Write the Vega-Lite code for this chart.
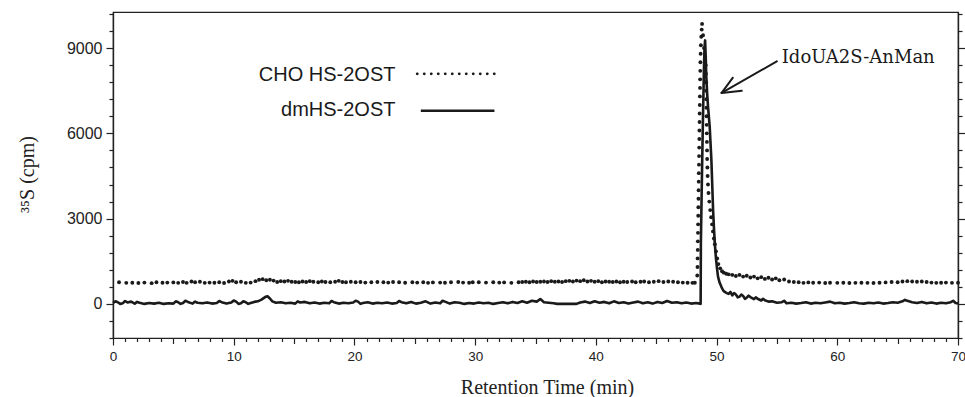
{
  "$schema": "https://vega.github.io/schema/vega-lite/v6.json",
  "width": 845,
  "height": 326,
  "autosize": {"type": "none"},
  "padding": {"left": 113, "top": 12, "right": 7, "bottom": 59},
  "background": "white",
  "config": {
    "view": {"stroke": "#222", "strokeWidth": 1.2},
    "axis": {"domainColor": "#222", "domainWidth": 1.2, "tickColor": "#222", "tickWidth": 1.2, "labelColor": "#222", "labelFont": "Liberation Sans", "grid": false, "titleColor": "#222", "titleFontWeight": "normal", "labelOverlap": false}
  },
  "datasets": {
    "cho": [
      {"t":0.5,"v":760},{"t":1.1,"v":740},{"t":1.6,"v":745},{"t":2.1,"v":735},{"t":2.6,"v":750},{"t":3.2,"v":730},{"t":3.6,"v":760},{"t":4.1,"v":745},{"t":4.5,"v":750},{"t":5.0,"v":755},{"t":5.4,"v":740},{"t":5.8,"v":770},{"t":6.1,"v":740},{"t":6.5,"v":790},{"t":6.8,"v":760},{"t":7.2,"v":780},{"t":7.6,"v":740},{"t":8.0,"v":750},{"t":8.4,"v":745},{"t":8.8,"v":760},{"t":9.2,"v":735},{"t":9.6,"v":790},{"t":9.9,"v":810},{"t":10.2,"v":760},{"t":10.6,"v":780},{"t":11.0,"v":740},{"t":11.4,"v":750},{"t":11.8,"v":800},{"t":12.1,"v":850},{"t":12.4,"v":870},{"t":12.7,"v":830},{"t":13.0,"v":850},{"t":13.3,"v":820},{"t":13.6,"v":770},{"t":13.9,"v":800},{"t":14.2,"v":790},{"t":14.5,"v":810},{"t":14.8,"v":780},{"t":15.1,"v":770},{"t":15.4,"v":760},{"t":15.7,"v":790},{"t":16.0,"v":770},{"t":16.3,"v":800},{"t":16.6,"v":780},{"t":17.0,"v":760},{"t":17.3,"v":790},{"t":17.6,"v":770},{"t":18.0,"v":760},{"t":18.4,"v":780},{"t":18.7,"v":810},{"t":19.0,"v":770},{"t":19.3,"v":760},{"t":19.7,"v":780},{"t":20.1,"v":760},{"t":20.5,"v":770},{"t":20.9,"v":750},{"t":21.4,"v":760},{"t":21.9,"v":770},{"t":22.4,"v":760},{"t":22.8,"v":750},{"t":23.2,"v":770},{"t":23.7,"v":760},{"t":24.2,"v":745},{"t":24.8,"v":760},{"t":25.2,"v":750},{"t":25.7,"v":760},{"t":26.1,"v":740},{"t":26.5,"v":755},{"t":27.1,"v":750},{"t":27.5,"v":745},{"t":28.0,"v":760},{"t":28.6,"v":770},{"t":29.0,"v":750},{"t":29.5,"v":745},{"t":29.8,"v":760},{"t":30.3,"v":760},{"t":30.9,"v":750},{"t":31.5,"v":760},{"t":32.0,"v":750},{"t":32.4,"v":755},{"t":33.0,"v":740},{"t":33.6,"v":760},{"t":33.9,"v":770},{"t":34.2,"v":780},{"t":34.5,"v":760},{"t":34.8,"v":790},{"t":35.1,"v":770},{"t":35.4,"v":780},{"t":35.7,"v":790},{"t":36.0,"v":770},{"t":36.3,"v":800},{"t":36.6,"v":780},{"t":36.9,"v":790},{"t":37.2,"v":770},{"t":37.5,"v":800},{"t":37.8,"v":810},{"t":38.1,"v":790},{"t":38.4,"v":820},{"t":38.7,"v":800},{"t":39.0,"v":830},{"t":39.3,"v":790},{"t":39.6,"v":810},{"t":39.9,"v":780},{"t":40.2,"v":800},{"t":40.5,"v":760},{"t":40.8,"v":790},{"t":41.1,"v":780},{"t":41.4,"v":770},{"t":41.7,"v":790},{"t":42.0,"v":760},{"t":42.3,"v":780},{"t":42.6,"v":770},{"t":43.0,"v":790},{"t":43.3,"v":760},{"t":43.7,"v":780},{"t":44.0,"v":790},{"t":44.4,"v":760},{"t":44.8,"v":780},{"t":45.2,"v":800},{"t":45.6,"v":770},{"t":46.0,"v":790},{"t":46.4,"v":780},{"t":46.8,"v":760},{"t":47.2,"v":750},{"t":47.6,"v":745},{"t":48.0,"v":740},{"t":48.2,"v":745},
      {"t":48.40,"v":1000},{"t":48.42,"v":1300},{"t":48.43,"v":1600},{"t":48.44,"v":1900},{"t":48.45,"v":2200},{"t":48.46,"v":2500},{"t":48.47,"v":2800},{"t":48.48,"v":3100},{"t":48.49,"v":3400},{"t":48.50,"v":3700},{"t":48.51,"v":4000},{"t":48.52,"v":4300},{"t":48.53,"v":4600},{"t":48.54,"v":4900},{"t":48.55,"v":5200},{"t":48.56,"v":5500},{"t":48.57,"v":5800},{"t":48.58,"v":6100},{"t":48.59,"v":6400},{"t":48.60,"v":6700},{"t":48.61,"v":7000},{"t":48.62,"v":7300},{"t":48.63,"v":7600},{"t":48.64,"v":7900},{"t":48.65,"v":8200},{"t":48.66,"v":8500},{"t":48.68,"v":8800},{"t":48.70,"v":9100},{"t":48.73,"v":9400},{"t":48.77,"v":9650},{"t":48.80,"v":9850},
      {"t":48.88,"v":9450},{"t":48.96,"v":9000},{"t":49.05,"v":8700},{"t":49.10,"v":8400},{"t":49.12,"v":8100},{"t":49.13,"v":7800},{"t":49.14,"v":7500},{"t":49.15,"v":7200},{"t":49.16,"v":6900},{"t":49.17,"v":6600},{"t":49.18,"v":6300},{"t":49.19,"v":6000},{"t":49.20,"v":5700},{"t":49.21,"v":5400},{"t":49.22,"v":5100},{"t":49.24,"v":4800},{"t":49.26,"v":4500},{"t":49.29,"v":4200},{"t":49.33,"v":3900},{"t":49.40,"v":3600},{"t":49.47,"v":3300},{"t":49.55,"v":3050},{"t":49.63,"v":2800},{"t":49.70,"v":2550},{"t":49.78,"v":2300},{"t":49.86,"v":2100},{"t":49.95,"v":1850},{"t":50.05,"v":1600},{"t":50.15,"v":1400},{"t":50.30,"v":1250},{"t":50.45,"v":1150},{"t":50.60,"v":1100},{"t":50.80,"v":1060},{"t":51.00,"v":1040},
      {"t":51.3,"v":1020},{"t":51.6,"v":980},{"t":51.9,"v":1020},{"t":52.2,"v":960},{"t":52.5,"v":990},{"t":52.8,"v":930},{"t":53.1,"v":960},{"t":53.4,"v":900},{"t":53.7,"v":940},{"t":54.0,"v":880},{"t":54.3,"v":920},{"t":54.6,"v":860},{"t":54.9,"v":900},{"t":55.2,"v":830},{"t":55.6,"v":860},{"t":56.0,"v":790},{"t":56.4,"v":770},{"t":56.8,"v":760},{"t":57.2,"v":740},{"t":57.6,"v":755},{"t":58.0,"v":745},{"t":58.5,"v":750},{"t":59.0,"v":735},{"t":59.4,"v":745},{"t":60.0,"v":740},{"t":60.5,"v":745},{"t":61.0,"v":735},{"t":61.5,"v":740},{"t":62.0,"v":745},{"t":62.5,"v":740},{"t":63.0,"v":735},{"t":63.5,"v":745},{"t":64.0,"v":755},{"t":64.5,"v":770},{"t":65.0,"v":760},{"t":65.4,"v":790},{"t":65.8,"v":800},{"t":66.2,"v":790},{"t":66.6,"v":780},{"t":67.0,"v":790},{"t":67.4,"v":770},{"t":67.8,"v":750},{"t":68.2,"v":740},{"t":68.6,"v":745},{"t":69.0,"v":750},{"t":69.5,"v":740},{"t":70.0,"v":745}
    ],
    "dm": [
      {"t":0.0,"v":30},{"t":0.2,"v":90},{"t":0.4,"v":60},{"t":0.6,"v":0},{"t":0.8,"v":20},{"t":1.0,"v":100},{"t":1.2,"v":50},{"t":1.5,"v":80},{"t":1.8,"v":10},{"t":2.0,"v":70},{"t":2.2,"v":40},{"t":2.6,"v":0},{"t":3.0,"v":30},{"t":3.4,"v":10},{"t":3.8,"v":40},{"t":4.2,"v":0},{"t":4.6,"v":20},{"t":5.0,"v":10},{"t":5.2,"v":90},{"t":5.4,"v":60},{"t":5.6,"v":0},{"t":5.8,"v":30},{"t":6.0,"v":110},{"t":6.2,"v":70},{"t":6.6,"v":10},{"t":6.8,"v":80},{"t":7.0,"v":40},{"t":7.4,"v":20},{"t":7.8,"v":50},{"t":8.2,"v":10},{"t":8.6,"v":30},{"t":8.8,"v":100},{"t":9.0,"v":60},{"t":9.4,"v":10},{"t":9.8,"v":50},{"t":10.0,"v":120},{"t":10.2,"v":80},{"t":10.4,"v":0},{"t":10.6,"v":20},{"t":10.8,"v":90},{"t":11.0,"v":60},{"t":11.2,"v":0},{"t":11.4,"v":30},{"t":11.7,"v":70},{"t":12.0,"v":90},{"t":12.3,"v":150},{"t":12.6,"v":240},{"t":12.8,"v":270},{"t":13.0,"v":190},{"t":13.2,"v":90},{"t":13.5,"v":40},{"t":13.9,"v":60},{"t":14.3,"v":20},{"t":14.7,"v":40},{"t":15.1,"v":10},{"t":15.3,"v":90},{"t":15.5,"v":50},{"t":15.9,"v":70},{"t":16.3,"v":20},{"t":16.7,"v":50},{"t":17.1,"v":10},{"t":17.5,"v":40},{"t":17.9,"v":20},{"t":18.1,"v":100},{"t":18.3,"v":60},{"t":18.7,"v":10},{"t":19.1,"v":40},{"t":19.5,"v":20},{"t":19.9,"v":50},{"t":20.1,"v":110},{"t":20.3,"v":80},{"t":20.5,"v":0},{"t":20.7,"v":30},{"t":21.1,"v":60},{"t":21.5,"v":10},{"t":21.9,"v":40},{"t":22.3,"v":20},{"t":22.7,"v":50},{"t":23.1,"v":10},{"t":23.5,"v":30},{"t":23.7,"v":100},{"t":23.9,"v":60},{"t":24.3,"v":20},{"t":24.7,"v":70},{"t":25.1,"v":10},{"t":25.5,"v":40},{"t":25.9,"v":90},{"t":26.3,"v":10},{"t":26.7,"v":50},{"t":27.1,"v":20},{"t":27.3,"v":110},{"t":27.5,"v":80},{"t":27.9,"v":10},{"t":28.3,"v":60},{"t":28.7,"v":40},{"t":29.1,"v":0},{"t":29.5,"v":30},{"t":29.9,"v":10},{"t":30.3,"v":50},{"t":30.7,"v":20},{"t":31.1,"v":40},{"t":31.5,"v":0},{"t":31.9,"v":30},{"t":32.3,"v":60},{"t":32.7,"v":20},{"t":33.1,"v":70},{"t":33.5,"v":30},{"t":33.9,"v":90},{"t":34.3,"v":40},{"t":34.7,"v":110},{"t":35.1,"v":80},{"t":35.4,"v":170},{"t":35.7,"v":60},{"t":36.1,"v":40},{"t":36.5,"v":20},{"t":36.8,"v":0},{"t":37.4,"v":0},{"t":38.4,"v":0},{"t":38.7,"v":50},{"t":39.1,"v":80},{"t":39.5,"v":30},{"t":39.9,"v":90},{"t":40.3,"v":40},{"t":40.7,"v":70},{"t":41.1,"v":20},{"t":41.5,"v":90},{"t":41.9,"v":30},{"t":42.3,"v":60},{"t":42.7,"v":10},{"t":43.1,"v":50},{"t":43.5,"v":80},{"t":43.9,"v":20},{"t":44.3,"v":60},{"t":44.7,"v":10},{"t":45.1,"v":70},{"t":45.5,"v":30},{"t":45.9,"v":100},{"t":46.3,"v":40},{"t":46.7,"v":60},{"t":47.1,"v":20},{"t":47.5,"v":50},{"t":47.9,"v":10},{"t":48.3,"v":30},
      {"t":48.62,"v":10},{"t":48.68,"v":0},{"t":48.69,"v":1000},{"t":48.70,"v":2150},{"t":48.75,"v":3500},{"t":48.80,"v":4800},{"t":48.85,"v":6000},{"t":48.90,"v":7100},{"t":48.95,"v":8200},{"t":49.00,"v":9000},{"t":49.05,"v":9270},{"t":49.10,"v":8700},{"t":49.15,"v":8000},{"t":49.22,"v":7400},{"t":49.30,"v":6900},{"t":49.43,"v":6240},{"t":49.50,"v":5650},{"t":49.57,"v":5070},{"t":49.64,"v":4200},{"t":49.71,"v":3310},{"t":49.78,"v":2700},{"t":49.85,"v":2150},{"t":49.95,"v":1600},{"t":50.05,"v":1200},{"t":50.12,"v":960},{"t":50.25,"v":750},{"t":50.40,"v":600},{"t":50.55,"v":470},{"t":50.68,"v":420},{"t":50.85,"v":380},{"t":51.0,"v":350},{"t":51.15,"v":420},{"t":51.3,"v":300},{"t":51.45,"v":380},{"t":51.6,"v":330},{"t":51.75,"v":230},{"t":51.9,"v":250},{"t":52.05,"v":330},{"t":52.2,"v":280},{"t":52.35,"v":180},{"t":52.5,"v":220},{"t":52.65,"v":290},{"t":52.8,"v":240},{"t":53.1,"v":170},{"t":53.25,"v":230},{"t":53.4,"v":180},{"t":53.7,"v":120},{"t":53.85,"v":180},{"t":54.0,"v":130},{"t":54.3,"v":80},{"t":54.6,"v":90},{"t":55.0,"v":40},
      {"t":55.4,"v":60},{"t":55.6,"v":110},{"t":55.8,"v":20},{"t":56.2,"v":40},{"t":56.6,"v":10},{"t":57.0,"v":30},{"t":57.4,"v":60},{"t":57.8,"v":10},{"t":58.2,"v":40},{"t":58.6,"v":20},{"t":59.0,"v":50},{"t":59.4,"v":80},{"t":59.8,"v":20},{"t":60.2,"v":40},{"t":60.6,"v":10},{"t":61.0,"v":30},{"t":61.4,"v":60},{"t":61.8,"v":20},{"t":62.2,"v":10},{"t":62.6,"v":40},{"t":63.0,"v":20},{"t":63.4,"v":50},{"t":63.8,"v":10},{"t":64.2,"v":30},{"t":64.6,"v":60},{"t":65.0,"v":40},{"t":65.4,"v":90},{"t":65.6,"v":140},{"t":65.8,"v":110},{"t":66.2,"v":60},{"t":66.6,"v":30},{"t":67.0,"v":70},{"t":67.4,"v":20},{"t":67.8,"v":50},{"t":68.2,"v":10},{"t":68.6,"v":40},{"t":69.0,"v":20},{"t":69.4,"v":60},{"t":69.6,"v":110},{"t":69.8,"v":30},{"t":70.0,"v":10}
    ]
  },
  "resolve": {"axis": {"x": "independent", "y": "independent"}},
  "layer": [
    {
      "data": {"name": "cho"},
      "mark": {"type": "circle", "size": 15, "color": "#1a1a1a", "opacity": 1},
      "encoding": {
        "x": {"field": "t", "type": "quantitative", "scale": {"domain": [0, 70], "nice": false, "zero": false},
          "axis": {"orient": "bottom", "values": [0, 10, 20, 30, 40, 50, 60, 70], "format": "d", "labelFontSize": 13.5, "labelPadding": 4, "labelFlush": false, "tickSize": 7,
            "title": "Retention Time (min)", "titleFont": "Liberation Serif", "titleFontSize": 20, "titleX": 434, "titleY": 55, "titleBaseline": "alphabetic", "titleAlign": "center"}},
        "y": {"field": "v", "type": "quantitative", "scale": {"domain": [-1200, 10270], "nice": false, "zero": false},
          "axis": {"orient": "left", "values": [0, 3000, 6000, 9000], "format": "d", "labelFontSize": 16, "labelPadding": 4, "tickSize": 7,
            "title": "³⁵S (cpm)", "titleFont": "Liberation Serif", "titleFontSize": 20, "titleX": -80, "titleY": 162, "titleAngle": -90, "titleBaseline": "alphabetic", "titleAlign": "center"}}
      }
    },
    {
      "data": {"name": "dm"},
      "mark": {"type": "line", "color": "#1a1a1a", "strokeWidth": 2.6, "strokeJoin": "round"},
      "encoding": {
        "x": {"field": "t", "type": "quantitative",
          "axis": {"orient": "bottom", "values": [1,2,3,4,6,7,8,9,11,12,13,14,16,17,18,19,21,22,23,24,26,27,28,29,31,32,33,34,36,37,38,39,41,42,43,44,46,47,48,49,51,52,53,54,56,57,58,59,61,62,63,64,66,67,68,69], "labels": false, "title": null, "tickSize": 3.5}},
        "y": {"field": "v", "type": "quantitative",
          "axis": {"orient": "left", "values": [-1200,-600,600,1200,1800,2400,3600,4200,4800,5400,6600,7200,7800,8400,9600,10200], "labels": false, "title": null, "tickSize": 4}}
      }
    },
    {
      "data": {"values": [{}]},
      "mark": {"type": "text", "text": "CHO HS-2OST", "font": "Liberation Sans", "fontSize": 20, "align": "right", "baseline": "alphabetic", "color": "#1a1a1a"},
      "encoding": {
        "x": {"datum": 23.4, "type": "quantitative",
          "axis": {"orient": "bottom", "values": [5, 15, 25, 35, 45, 55, 65], "labels": false, "title": null, "tickSize": 5.5}},
        "y": {"datum": 7825, "type": "quantitative",
          "axis": {"orient": "right", "values": [0, 3000, 6000, 9000], "labels": false, "title": null, "tickSize": 7}}
      }
    },
    {
      "data": {"values": [{}]},
      "mark": {"type": "text", "text": "dmHS-2OST", "font": "Liberation Sans", "fontSize": 20, "align": "right", "baseline": "alphabetic", "color": "#1a1a1a"},
      "encoding": {
        "x": {"datum": 23.4, "type": "quantitative", "axis": null},
        "y": {"datum": 6628, "type": "quantitative",
          "axis": {"orient": "right", "values": [-1200,-600,600,1200,1800,2400,3600,4200,4800,5400,6600,7200,7800,8400,9600,10200], "labels": false, "title": null, "tickSize": 4}}
      }
    },
    {
      "data": {"values": [{}]},
      "mark": {"type": "rule", "color": "#1a1a1a", "strokeWidth": 2.8, "strokeCap": "round", "strokeDash": [0.1, 6.9]},
      "encoding": {"x": {"datum": 25.2, "type": "quantitative", "axis": null}, "x2": {"datum": 31.6}, "y": {"datum": 8096, "type": "quantitative", "axis": null}}
    },
    {
      "data": {"values": [{}]},
      "mark": {"type": "rule", "color": "#1a1a1a", "strokeWidth": 2.4},
      "encoding": {"x": {"datum": 25.5, "type": "quantitative", "axis": null}, "x2": {"datum": 31.6}, "y": {"datum": 6793, "type": "quantitative", "axis": null}}
    },
    {
      "data": {"values": [{}]},
      "mark": {"type": "text", "text": "IdoUA2S-AnMan", "font": "DejaVu Serif", "fontSize": 18, "align": "left", "baseline": "alphabetic", "color": "#1a1a1a"},
      "encoding": {"x": {"datum": 55.4, "type": "quantitative", "axis": null}, "y": {"datum": 8472, "type": "quantitative", "axis": null}}
    },
    {
      "data": {"values": [{}]},
      "mark": {"type": "rule", "color": "#1a1a1a", "strokeWidth": 2, "strokeCap": "round"},
      "encoding": {"x": {"datum": 54.99, "type": "quantitative", "axis": null}, "x2": {"datum": 50.42}, "y": {"datum": 8535, "type": "quantitative", "axis": null}, "y2": {"datum": 7423}}
    },
    {
      "data": {"values": [{}]},
      "mark": {"type": "rule", "color": "#1a1a1a", "strokeWidth": 2, "strokeCap": "round"},
      "encoding": {"x": {"datum": 50.42, "type": "quantitative", "axis": null}, "x2": {"datum": 51.35}, "y": {"datum": 7423, "type": "quantitative", "axis": null}, "y2": {"datum": 7958}}
    },
    {
      "data": {"values": [{}]},
      "mark": {"type": "rule", "color": "#1a1a1a", "strokeWidth": 2, "strokeCap": "round"},
      "encoding": {"x": {"datum": 50.42, "type": "quantitative", "axis": null}, "x2": {"datum": 52.09}, "y": {"datum": 7423, "type": "quantitative", "axis": null}, "y2": {"datum": 7497}}
    }
  ]
}
